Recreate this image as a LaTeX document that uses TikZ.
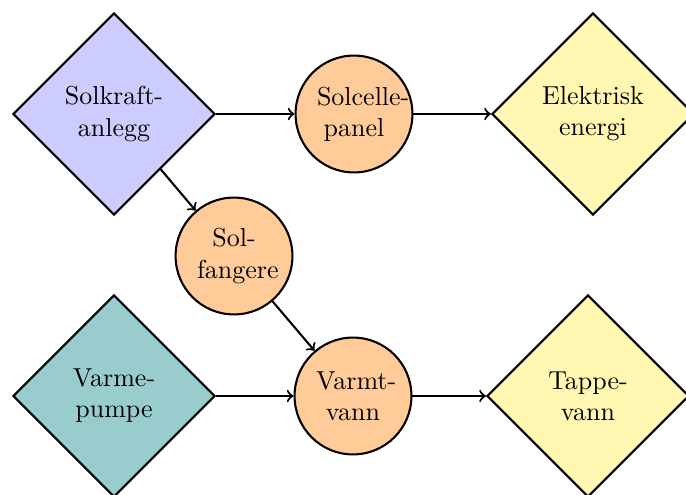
\documentclass[tikz,border=0pt]{standalone}
\usepackage{tikz}
\usepackage{xcolor}
\usetikzlibrary{shapes.geometric, arrows}
\definecolor{panelblue}{RGB}{204,204,255}
\definecolor{warmorange}{RGB}{255,204,153}
\definecolor{paleyellow}{RGB}{255,247,178}
\definecolor{pumpteal}{RGB}{153,204,204}

\begin{document}
\begin{tikzpicture}[x=0.385pt, y=-0.385pt,
    source/.style={diamond, draw, thick, inner sep=0pt, minimum size=77.8pt, text width=1.6cm, align=center},
    unit/.style={circle, draw, thick, fill=warmorange, inner sep=0pt, minimum size=45pt, text width=1cm, align=center},
    flow/.style={->, thick}]
            \useasboundingbox (0,0) rectangle (686,495);

            % kilder og sluttbruk
            \node[source, fill=panelblue] (solkraft) at (114,114) {Solkraft-\\anlegg};
            \node[source, fill=paleyellow] (elektrisk) at (593,114) {Elektrisk\\energi};
            \node[source, fill=pumpteal] (varmepumpe) at (114,396) {Varme-\\pumpe};
            \node[source, fill=paleyellow] (tappevann) at (588,396) {Tappe-\\vann};

            % komponenter
            \node[unit] (solcelle) at (354,114) {\mbox{Solcelle-}\\panel};
            \node[unit] (solfanger) at (234,256) {Sol-\\\mbox{fangere}};
            \node[unit] (varmtvann) at (353,396) {\mbox{Varmt-}\\vann};

            \draw[flow] (solkraft) -- (solcelle);
            \draw[flow] (solcelle) -- (elektrisk);
            \draw[flow] (solkraft) -- (solfanger);
            \draw[flow] (solfanger) -- (varmtvann);
            \draw[flow] (varmepumpe) -- (varmtvann);
            \draw[flow] (varmtvann) -- (tappevann);
        \end{tikzpicture}
\end{document}
